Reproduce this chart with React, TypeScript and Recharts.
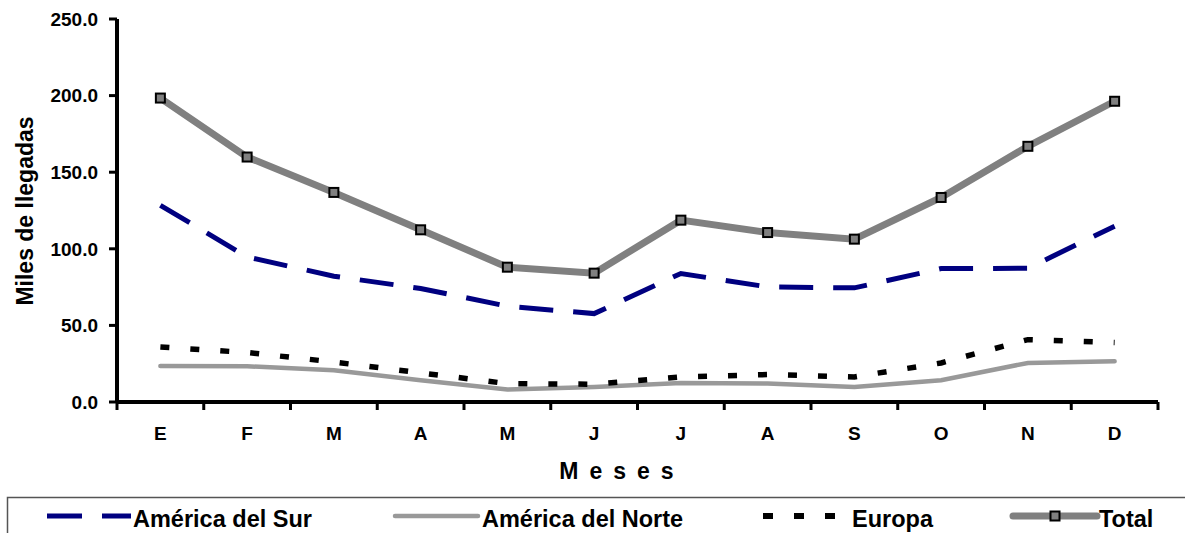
import React from 'react';
import { LineChart, Line, XAxis, YAxis, Legend, Label } from 'recharts';

// ---- data ----
const months = ['E', 'F', 'M', 'A', 'M', 'J', 'J', 'A', 'S', 'O', 'N', 'D'];
const americaDelSur = [128.4, 94.7, 82.1, 74.1, 62.5, 57.7, 83.9, 75.1, 74.5, 87.1, 87.3, 114.7];
const americaDelNorte = [23.5, 23.3, 20.7, 14.2, 8.1, 9.8, 12.4, 12.0, 9.8, 14.2, 25.5, 26.6];
const europa = [35.9, 32.3, 26.1, 19.0, 12.0, 11.6, 16.4, 17.9, 16.4, 25.5, 40.7, 38.8];
const total = [198.4, 159.9, 136.8, 112.4, 88.0, 84.1, 118.7, 110.6, 106.3, 133.5, 166.9, 196.3];
const yTicks = [0, 50, 100, 150, 200, 250];
const monthBoundaries = [0, 1, 2, 3, 4, 5, 6, 7, 8, 9, 10, 11, 12];

const seriesNames = ['América del Sur', 'América del Norte', 'Europa', 'Total'];

const data = months.map((m, i) => ({
  month: m,
  pos: i + 0.5,
  sur: americaDelSur[i],
  norte: americaDelNorte[i],
  europa: europa[i],
  total: total[i],
}));

// ---- layout / style ----
const FONT = "'Liberation Sans', Arial, sans-serif";
const W = 1185;
const H = 533;
const MARGIN = { top: 19, right: 27, bottom: 101, left: 9 };
const Y_AXIS_W = 108;
const PLOT_W = W - MARGIN.left - MARGIN.right - Y_AXIS_W;
const HALF_STEP = PLOT_W / 24;

const SUR_COLOR = '#000080';
const NORTE_COLOR = '#999999';
const EUROPA_COLOR = '#000000';
const TOTAL_COLOR = '#808080';

const MonthTick = (props: any) => {
  const { x, y, payload } = props;
  const idx = payload.value;
  if (idx >= months.length) return <g />;
  return (
    <text
      x={x + HALF_STEP}
      y={y}
      dy={13}
      textAnchor="middle"
      fontFamily={FONT}
      fontWeight="bold"
      fontSize={19}
      fill="#000"
    >
      {months[idx]}
    </text>
  );
};

const TotalDot = (props: any) => {
  const { cx, cy, index } = props;
  return (
    <rect
      key={`td-${index}`}
      x={cx - 4.5}
      y={cy - 4.5}
      width={9}
      height={9}
      fill={TOTAL_COLOR}
      stroke="#000"
      strokeWidth={2}
    />
  );
};

const legendItems = [
  { name: seriesNames[0], x1: 47, x2: 131, textX: 133, stroke: SUR_COLOR, width: 5, dash: '35 20', marker: false },
  { name: seriesNames[1], x1: 395, x2: 478, textX: 482, stroke: NORTE_COLOR, width: 4.5, dash: undefined, marker: false },
  { name: seriesNames[2], x1: 763, x2: 835, textX: 852, stroke: EUROPA_COLOR, width: 6, dash: '10 21', marker: false },
  { name: seriesNames[3], x1: 1013, x2: 1097, textX: 1099, stroke: TOTAL_COLOR, width: 7, dash: undefined, marker: true },
];

const renderLegend = () => (
  <svg width={W} height={40} style={{ overflow: 'visible', display: 'block' }}>
    <rect x={7.5} y={0.5} width={W + 20} height={60} fill="#fff" stroke="#555" strokeWidth={1.5} />
    {legendItems.map((it) => (
      <g key={it.name}>
        <line
          x1={it.x1}
          x2={it.x2}
          y1={19}
          y2={19}
          stroke={it.stroke}
          strokeWidth={it.width}
          strokeDasharray={it.dash}
          strokeLinecap={it.dash ? 'butt' : 'round'}
        />
        {it.marker && (
          <rect x={(it.x1 + it.x2) / 2 - 4.5} y={14.5} width={9} height={9} fill={TOTAL_COLOR} stroke="#000" strokeWidth={2} />
        )}
        <text x={it.textX} y={30} fontFamily={FONT} fontWeight="bold" fontSize={23.5} fill="#000">
          {it.name}
        </text>
      </g>
    ))}
  </svg>
);

export default function App() {
  return (
    <div style={{ position: 'absolute', left: 0, top: 0, width: W, height: H, overflow: 'hidden', background: '#fff' }}>
      <LineChart width={W} height={H} data={data} margin={MARGIN}>
        <XAxis
          type="number"
          dataKey="pos"
          domain={[0, 12]}
          ticks={monthBoundaries}
          interval={0}
          height={30}
          tickSize={8}
          tickMargin={17}
          tick={<MonthTick />}
          axisLine={{ stroke: '#000', strokeWidth: 4 }}
          tickLine={{ stroke: '#000', strokeWidth: 3 }}
        >
          <Label
            content={() => (
              <text
                x={622}
                y={479}
                textAnchor="middle"
                fontFamily={FONT}
                fontWeight="bold"
                fontSize={23}
                letterSpacing={11}
                fill="#000"
              >
                Meses
              </text>
            )}
          />
        </XAxis>
        <YAxis
          width={Y_AXIS_W}
          domain={[0, 250]}
          ticks={yTicks}
          interval={0}
          tickSize={8}
          tickMargin={11}
          tickFormatter={(v: number) => v.toFixed(1)}
          tick={{ fill: '#000', fontSize: 19, fontWeight: 'bold', fontFamily: FONT }}
          axisLine={{ stroke: '#000', strokeWidth: 4 }}
          tickLine={{ stroke: '#000', strokeWidth: 3 }}
        >
          <Label
            content={() => (
              <text
                transform="translate(33,211) rotate(-90)"
                textAnchor="middle"
                fontFamily={FONT}
                fontWeight="bold"
                fontSize={23}
                fill="#000"
              >
                Miles de llegadas
              </text>
            )}
          />
        </YAxis>
        <Legend
          content={renderLegend}
          wrapperStyle={{ position: 'absolute', left: 0, top: 497, width: W, height: 0, margin: 0 }}
        />
        <Line
          type="linear"
          dataKey="sur"
          name={seriesNames[0]}
          stroke={SUR_COLOR}
          strokeWidth={5}
          strokeDasharray="34 20"
          dot={false}
          isAnimationActive={false}
        />
        <Line
          type="linear"
          dataKey="norte"
          name={seriesNames[1]}
          stroke={NORTE_COLOR}
          strokeWidth={4.5}
          strokeLinecap="round"
          dot={false}
          isAnimationActive={false}
        />
        <Line
          type="linear"
          dataKey="europa"
          name={seriesNames[2]}
          stroke={EUROPA_COLOR}
          strokeWidth={5.5}
          strokeDasharray="9 21"
          dot={false}
          isAnimationActive={false}
        />
        <Line
          type="linear"
          dataKey="total"
          name={seriesNames[3]}
          stroke={TOTAL_COLOR}
          strokeWidth={7}
          dot={<TotalDot />}
          isAnimationActive={false}
        />
      </LineChart>
    </div>
  );
}
